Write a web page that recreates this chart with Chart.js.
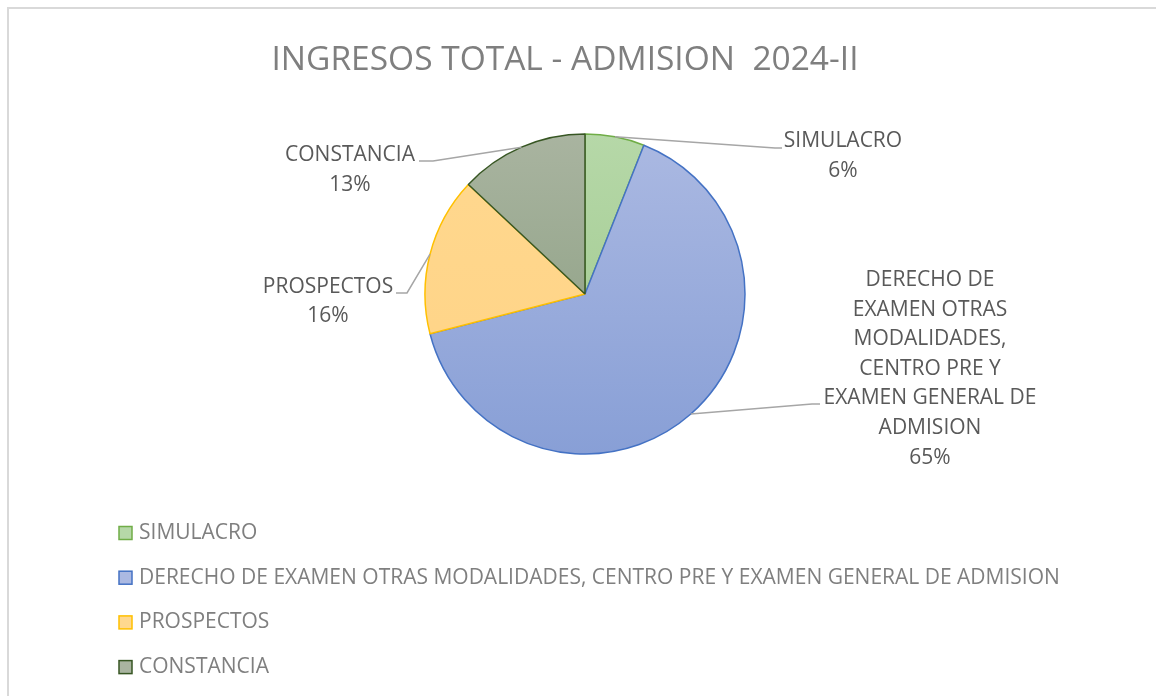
<!DOCTYPE html>
<html>
<head>
<meta charset="utf-8">
<script src="https://cdn.jsdelivr.net/npm/chart.js@4.4.1/dist/chart.umd.min.js"></script>
<style>
  html, body { margin: 0; padding: 0; background: #fff; }
  #marco { position: absolute; left: 7px; top: 7px; width: 1160px; height: 700px;
           border-left: 2px solid #d9d9d9; border-top: 2px solid #d9d9d9; }
  #contenedor { position: absolute; left: 0; top: 0; width: 1156px; height: 696px; }
</style>
</head>
<body>
<div id="marco"></div>
<div id="contenedor"><canvas id="grafica-pastel"></canvas></div>
<script>
const titulo = "INGRESOS TOTAL - ADMISION  2024-II";
const categorias = [
  "SIMULACRO",
  "DERECHO DE EXAMEN OTRAS MODALIDADES, CENTRO PRE Y EXAMEN GENERAL DE ADMISION",
  "PROSPECTOS",
  "CONSTANCIA"
];
const porcentajes = [6, 65, 16, 13];
const lineasEtiqueta = [
  ["SIMULACRO"],
  ["DERECHO DE", "EXAMEN OTRAS", "MODALIDADES,", "CENTRO PRE Y", "EXAMEN GENERAL DE", "ADMISION"],
  ["PROSPECTOS"],
  ["CONSTANCIA"]
];
const coloresArriba = ["#b6d8a8", "#abb9e2", "#ffd88f", "#a9b4a0"];
const coloresAbajo = ["#9cc78a", "#889fd6", "#ffd385", "#869b7c"];
const coloresBorde = ["#70ad47", "#4472c4", "#ffc000", "#375623"];

const fuente = "'Open Sans', sans-serif";

function relleno(c) {
  const area = c.chart.chartArea;
  const i = c.dataIndex;
  if (!area) return coloresArriba[i];
  const g = c.chart.ctx.createLinearGradient(0, area.top, 0, area.bottom);
  g.addColorStop(0, coloresArriba[i]);
  g.addColorStop(1, coloresAbajo[i]);
  return g;
}

// etiquetas con linea guia
const etiquetasPlugin = {
  id: "etiquetas",
  afterDatasetsDraw(chart, args, opts) {
    const ctx = chart.ctx;
    const meta = chart.getDatasetMeta(0);
    const total = porcentajes.reduce((a, b) => a + b, 0);
    meta.data.forEach((arc, i) => {
      const p = opts.posiciones[i];
      const { x, y, startAngle, endAngle, outerRadius } =
        arc.getProps(["x", "y", "startAngle", "endAngle", "outerRadius"], true);
      const medio = (startAngle + endAngle) / 2;
      const ax = x + Math.cos(medio) * outerRadius;
      const ay = y + Math.sin(medio) * outerRadius;
      ctx.save();
      ctx.strokeStyle = "#a6a6a6";
      ctx.lineWidth = 1.5;
      ctx.beginPath();
      ctx.moveTo(ax, ay);
      ctx.lineTo(p.codo[0], p.codo[1]);
      ctx.lineTo(p.fin[0], p.fin[1]);
      ctx.stroke();
      ctx.fillStyle = "#595959";
      ctx.font = "21px " + fuente;
      ctx.textAlign = "center";
      ctx.textBaseline = "middle";
      const lineas = [...lineasEtiqueta[i], Math.round(porcentajes[i] / total * 100) + "%"];
      lineas.forEach((t, k) => ctx.fillText(t, p.x, p.y + k * p.alto));
      ctx.restore();
    });
  }
};

// titulo y leyenda vertical
const leyendaPlugin = {
  id: "leyendaVertical",
  afterDraw(chart, args, opts) {
    const ctx = chart.ctx;
    ctx.save();
    ctx.fillStyle = "#7f7f7f";
    ctx.font = "33.5px " + fuente;
    ctx.textAlign = "center";
    ctx.textBaseline = "middle";
    ctx.fillText(titulo, opts.tituloX, opts.tituloY);

    ctx.font = "21px " + fuente;
    ctx.textAlign = "left";
    chart.data.labels.forEach((etq, i) => {
      const yy = opts.y0 + i * opts.paso;
      ctx.fillStyle = coloresArriba[i];
      ctx.fillRect(opts.x, yy - 6.5, 13, 13);
      ctx.strokeStyle = coloresBorde[i];
      ctx.lineWidth = 1.5;
      ctx.strokeRect(opts.x, yy - 6.5, 13, 13);
      ctx.fillStyle = "#7f7f7f";
      ctx.fillText(etq, opts.x + 20, yy);
    });
    ctx.restore();
  }
};

new Chart(document.getElementById("grafica-pastel").getContext("2d"), {
  type: "pie",
  data: {
    labels: categorias,
    datasets: [{
      data: porcentajes,
      backgroundColor: relleno,
      borderColor: coloresBorde,
      borderWidth: 1.5
    }]
  },
  options: {
    responsive: true,
    maintainAspectRatio: false,
    animation: false,
    layout: { padding: { left: 424.25, right: 410.25, top: 133.25, bottom: 241.25 } },
    plugins: {
      legend: { display: false },
      tooltip: { enabled: false },
      etiquetas: {
        posiciones: [
          { x: 843, y: 141, alto: 30, codo: [775, 148], fin: [782, 148] },
          { x: 930, y: 280, alto: 29.6, codo: [812, 404], fin: [820, 404] },
          { x: 328, y: 287, alto: 29.5, codo: [407, 293], fin: [396, 293] },
          { x: 350, y: 155, alto: 30, codo: [433, 161], fin: [419, 161] }
        ]
      },
      leyendaVertical: { tituloX: 565, tituloY: 60, x: 119, y0: 533, paso: 44.7 }
    }
  },
  plugins: [etiquetasPlugin, leyendaPlugin]
});
</script>
</body>
</html>
